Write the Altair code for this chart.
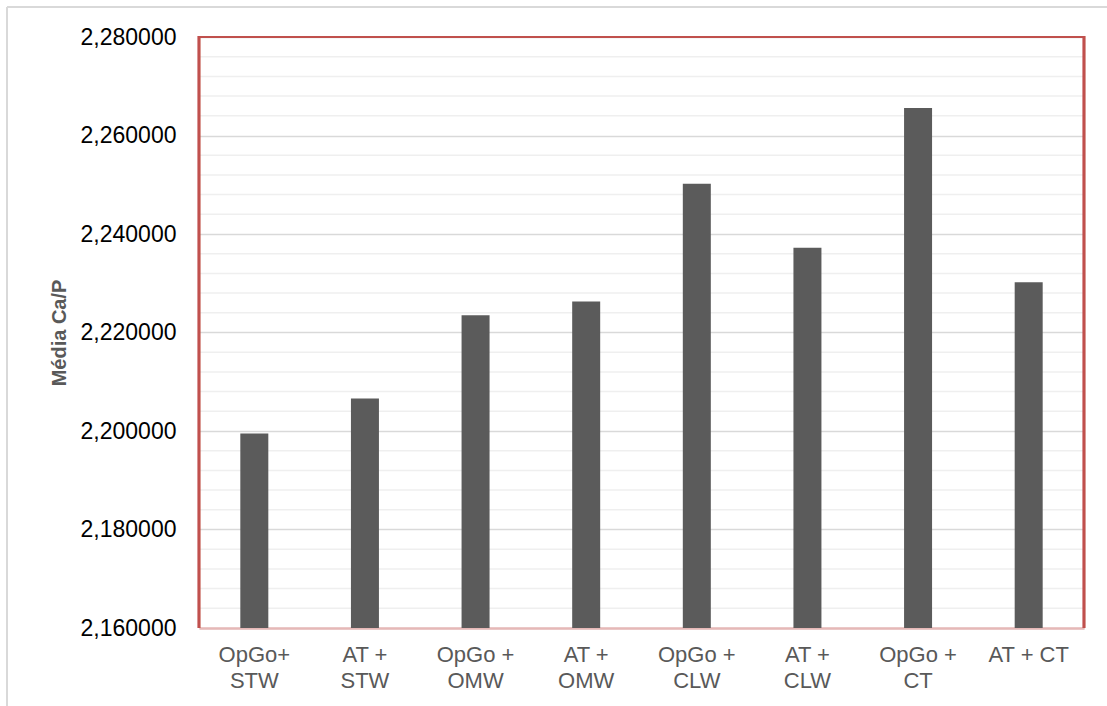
import altair as alt
import pandas as pd

categories = ["OpGo+\nSTW", "AT +\nSTW", "OpGo +\nOMW", "AT +\nOMW",
              "OpGo +\nCLW", "AT +\nCLW", "OpGo +\nCT", "AT + CT"]
values = [2.1995, 2.2066, 2.2235, 2.2263, 2.2502, 2.2372, 2.2656, 2.2302]
major_ticks = [2.16, 2.18, 2.20, 2.22, 2.24, 2.26, 2.28]
minor_ticks = [2.164, 2.168, 2.172, 2.176, 2.184, 2.188, 2.192, 2.196,
               2.204, 2.208, 2.212, 2.216, 2.224, 2.228, 2.232, 2.236,
               2.244, 2.248, 2.252, 2.256, 2.264, 2.268, 2.272, 2.276]

df = pd.DataFrame({"cat": categories, "val": values})
minor_df = pd.DataFrame({"v": minor_ticks})

FONT = "Liberation Sans"
RED = "#c0504d"

yscale = alt.Scale(domain=[2.16, 2.28], zero=False, nice=False)

minor = alt.Chart(minor_df).mark_rule(color="#efefef", strokeWidth=1.5).encode(
    y=alt.Y("v:Q", scale=yscale)
)

bars = alt.Chart(df).mark_bar(size=28, color="#5b5b5b", clip=True).encode(
    x=alt.X("cat:N", sort=categories, title=None,
            axis=alt.Axis(labelExpr="split(datum.label, '\\n')", labelAngle=0,
                          labelFont=FONT, labelFontSize=22, labelColor="#595959",
                          labelLineHeight=26, labelPadding=16, ticks=False,
                          domainColor="#e6b8b7", domainWidth=2.5, labelBaseline="top")),
    y=alt.Y("val:Q", scale=yscale, title="Média Ca/P",
            axis=alt.Axis(values=major_ticks,
                          labelExpr="replace(format(datum.value, '.6f'), '.', ',')",
                          labelFont=FONT, labelFontSize=23, labelColor="#000000",
                          labelPadding=23, ticks=False, domain=False,
                          grid=True, gridColor="#d9d9d9", gridWidth=1.5,
                          titleFont=FONT, titleFontSize=20, titleFontWeight="bold",
                          titleColor="#595959", titlePadding=11)),
)

border_left = alt.Chart(df).mark_rule(color="#d9d9d9", strokeWidth=1.5).encode(
    x=alt.value(-192), y=alt.value(-30), y2=alt.value(669)
)
border_top = alt.Chart(df).mark_rule(color="#d9d9d9", strokeWidth=1.5).encode(
    x=alt.value(-192), x2=alt.value(908), y=alt.value(-30)
)
frame_left = alt.Chart(df).mark_rule(color=RED, strokeWidth=2.2).encode(
    x=alt.value(0), y=alt.value(-1), y2=alt.value(591)
)
frame_right = alt.Chart(df).mark_rule(color=RED, strokeWidth=2.2).encode(
    x=alt.value(885), y=alt.value(-1), y2=alt.value(591)
)
frame_top = alt.Chart(df).mark_rule(color=RED, strokeWidth=2.2).encode(
    x=alt.value(-1), x2=alt.value(886), y=alt.value(0)
)

chart = alt.layer(minor, bars, frame_left, frame_right, frame_top,
                  border_left, border_top).properties(
    width=885, height=591,
    autosize=alt.AutoSizeParams(type="none"),
    padding={"left": 199, "top": 37, "right": 23, "bottom": 78},
    background="white",
).configure_view(stroke=None)

chart.save("out.html", embed_options={"renderer": "svg", "actions": False})
